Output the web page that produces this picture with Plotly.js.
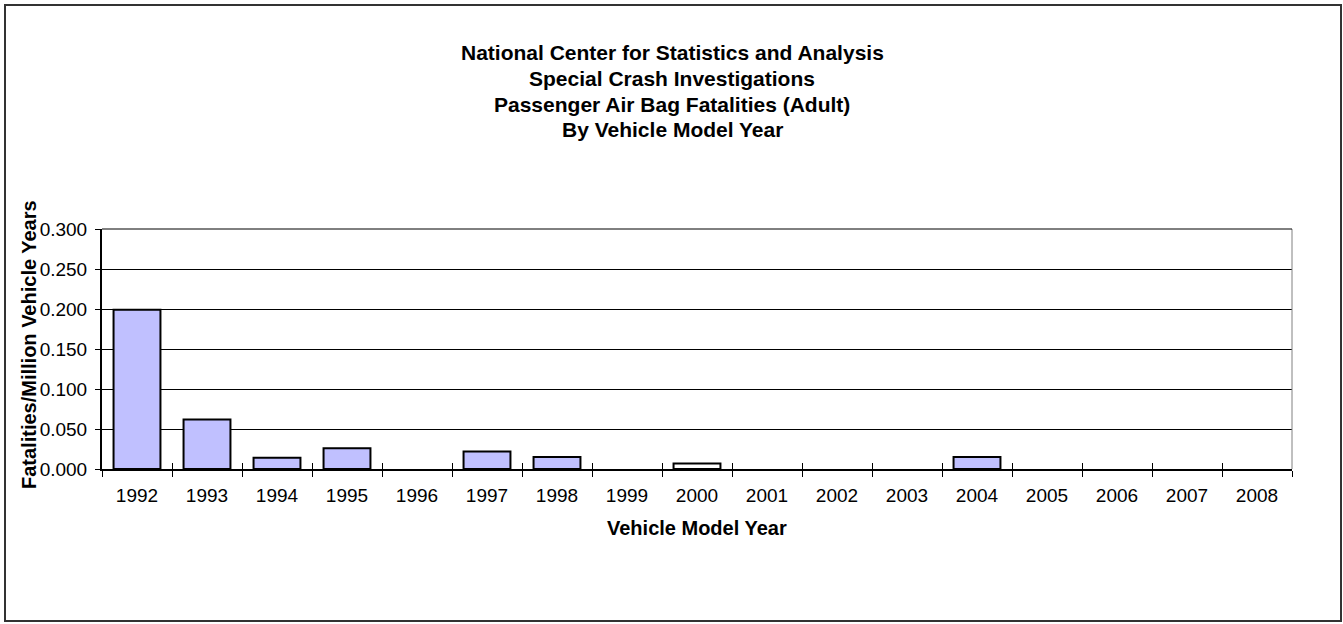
<!DOCTYPE html>
<html><head><meta charset="utf-8">
<script src="https://cdn.plot.ly/plotly-3.0.1.min.js"></script>
<style>html,body{margin:0;padding:0;background:#fff}#c{width:1343px;height:624px}</style>
</head><body><div id="c"></div>
<script>
const years = ["1992","1993","1994","1995","1996","1997","1998","1999","2000","2001","2002","2003","2004","2005","2006","2007","2008"];
const rates = [0.199,0.062,0.014,0.026,0,0.022,0.015,0,0.007,0,0,0,0.015,0,0,0,0];
const whiteYears = ["2000"];
const yTicks = [0,0.05,0.1,0.15,0.2,0.25,0.3];
const titleLines = ["National Center for Statistics and Analysis","Special Crash Investigations","Passenger Air Bag Fatalities (Adult)","By Vehicle Model Year"];
const xTitle = "Vehicle Model Year";
const yTitle = "Fatalities/Million Vehicle Years";

const font = "Liberation Sans, Arial, sans-serif";
const barColors = years.map(y => whiteYears.includes(y) ? "#FFFFFF" : "#C0C0FF");
const lineWidths = rates.map(v => v > 0 ? 2 : 0);

// pixel helpers (plot area: x 102..1292, y 229..469)
const px = p => (p - 102) / 1190;
const py = p => (469 - p) / 240;
const titleCenters = [52, 78, 104, 130];

const annotations = titleLines.map((s, i) => ({
  text: "<b>" + s + "</b>", xref: "paper", yref: "paper",
  x: px(672), y: py(titleCenters[i]), xanchor: "center", yanchor: "middle",
  showarrow: false, font: {family: font, size: 21, color: "#000"}
}));
annotations.push({
  text: "<b>" + xTitle + "</b>", xref: "paper", yref: "paper",
  x: 0.5, y: py(528), xanchor: "center", yanchor: "middle",
  showarrow: false, font: {family: font, size: 20, color: "#000"}
});
annotations.push({
  text: "<b>" + yTitle + "</b>", xref: "paper", yref: "paper", textangle: -90,
  x: px(29), y: py(345), xanchor: "center", yanchor: "middle",
  showarrow: false, font: {family: font, size: 20, color: "#000"}
});

Plotly.newPlot("c", [{
  type: "bar", x: years, y: rates,
  marker: {color: barColors, line: {color: "#000", width: lineWidths}},
  hoverinfo: "x+y"
}, {
  type: "scatter", mode: "none", x: years, y: rates, xaxis: "x2", yaxis: "y",
  hoverinfo: "skip", showlegend: false
}], {
  width: 1343, height: 624,
  margin: {l: 102, r: 51, t: 229, b: 155},
  paper_bgcolor: "#fff", plot_bgcolor: "#fff",
  bargap: 0.33,
  showlegend: false,
  font: {family: font, size: 19, color: "#000"},
  xaxis: {
    type: "category", showline: true, linecolor: "#000", linewidth: 2,
    ticks: "outside", tickson: "boundaries", ticklen: 6, tickcolor: "#000", tickwidth: 1,
    showgrid: false, mirror: false, ticklabelstandoff: 8,
    tickfont: {family: font, size: 19, color: "#000"}
  },
  xaxis2: {
    type: "category", overlaying: "x", anchor: "y", side: "bottom",
    range: [-0.5, years.length - 0.5],
    showline: false, showgrid: false, showticklabels: false,
    ticks: "inside", tickson: "boundaries", ticklen: 6, tickcolor: "#000", tickwidth: 1
  },
  yaxis: {
    range: [0, 0.3], tickvals: yTicks, tickformat: ".3f",
    showline: true, linecolor: "#000", linewidth: 2, mirror: false,
    ticks: "outside", ticklen: 5, tickcolor: "#000", ticklabelstandoff: 4,
    showgrid: true, gridcolor: "#000", gridwidth: 1, zeroline: false,
    tickfont: {family: font, size: 19, color: "#000"}
  },
  annotations: annotations,
  shapes: [
    {type: "line", xref: "paper", yref: "paper", x0: 1, x1: 1, y0: 0, y1: 1, line: {color: "#808080", width: 1}},
    {type: "line", xref: "paper", yref: "paper", x0: 0, x1: 1, y0: 1, y1: 1, line: {color: "#000", width: 1}},
    {type: "rect", xref: "paper", yref: "paper", x0: px(5), x1: px(1341), y0: py(621), y1: py(5), line: {color: "#333", width: 2}, layer: "below"}
  ]
}, {displayModeBar: false});
</script></body></html>
